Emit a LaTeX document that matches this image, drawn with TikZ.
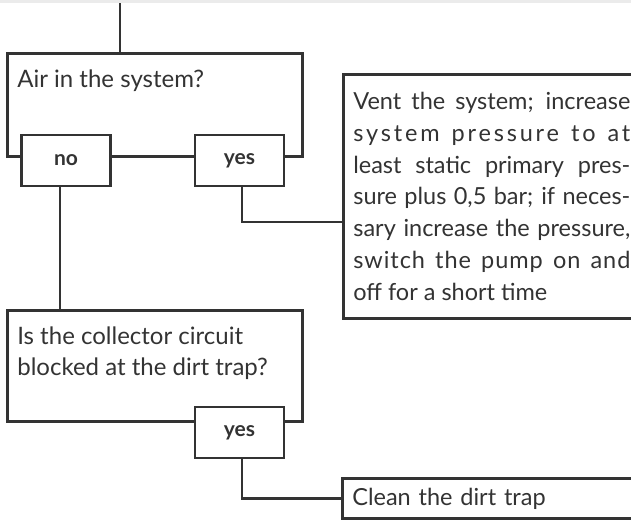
\documentclass[tikz,border=0pt]{standalone}
\usepackage{fontspec}
\setmainfont{Lato}
\usetikzlibrary{positioning}

\definecolor{linegray}{gray}{0.2}
\newcommand{\spread}[2]{{\addfontfeature{LetterSpace=#1}#2}}

\begin{document}
\begin{tikzpicture}[x=1pt,y=-1pt,line width=2.7pt,color=linegray,
  box/.style={draw,minimum width=295pt,inner sep=0pt,anchor=north west},
  qtext/.style={inner sep=0pt,anchor=north west,align=left,font=\fontsize{24}{31}\selectfont},
  answer/.style={draw,fill=white,minimum width=89pt,minimum height=51pt,inner sep=0pt,font=\fontsize{21}{24}\selectfont\bfseries},
  action/.style={draw,fill=white,anchor=north west,inner xsep=10pt,inner ysep=0pt,font=\fontsize{23.5}{31.7}\selectfont}]

\useasboundingbox (0,0) rectangle (631,520);
\clip (0,0) rectangle (631,520);
\fill[black!8] (0,0) rectangle (631,3);

% first question
\coordinate (entry) at (120,3);
\node[box,minimum height=103pt](air) at (6,52){};
\node[qtext](airtext) at (16,68){Air in the system?};
\node[answer](no1) at (66,160.5){no};
\node[answer](yes1) at (239.5,160.5){yes};

% action boxes
\node[action,text width=277pt,align=justify,minimum height=244pt](vent) at (342,73){%
Vent the system; increase\linebreak
\spread{12}{system pressure to at}\linebreak
least static primary pres-\linebreak
sure plus 0,5 bar; if neces-\linebreak
sary increase the pressure,\linebreak
\spread{4}{switch the pump on and}\linebreak
off for a short time};

% second question
\node[box,minimum height=111pt](dirt) at (6,309){};
\node[qtext](dirttext) at (16,325){Is the collector circuit\\blocked at the dirt trap?};
\node[answer](yes2) at (239.5,432.5){yes};
\node[action,text width=330pt,minimum height=40pt](clean) at (341,477){Clean the dirt trap};

\draw(entry)--(entry|-air.north)
  ([xshift=-6pt]no1.south)--([xshift=-6pt]no1.south|-dirt.north)
  ([xshift=2.5pt]yes1.south)|-(vent.west|-0,222)
  ([xshift=2.5pt]yes2.south)|-(clean.west);

\end{tikzpicture}
\end{document}
